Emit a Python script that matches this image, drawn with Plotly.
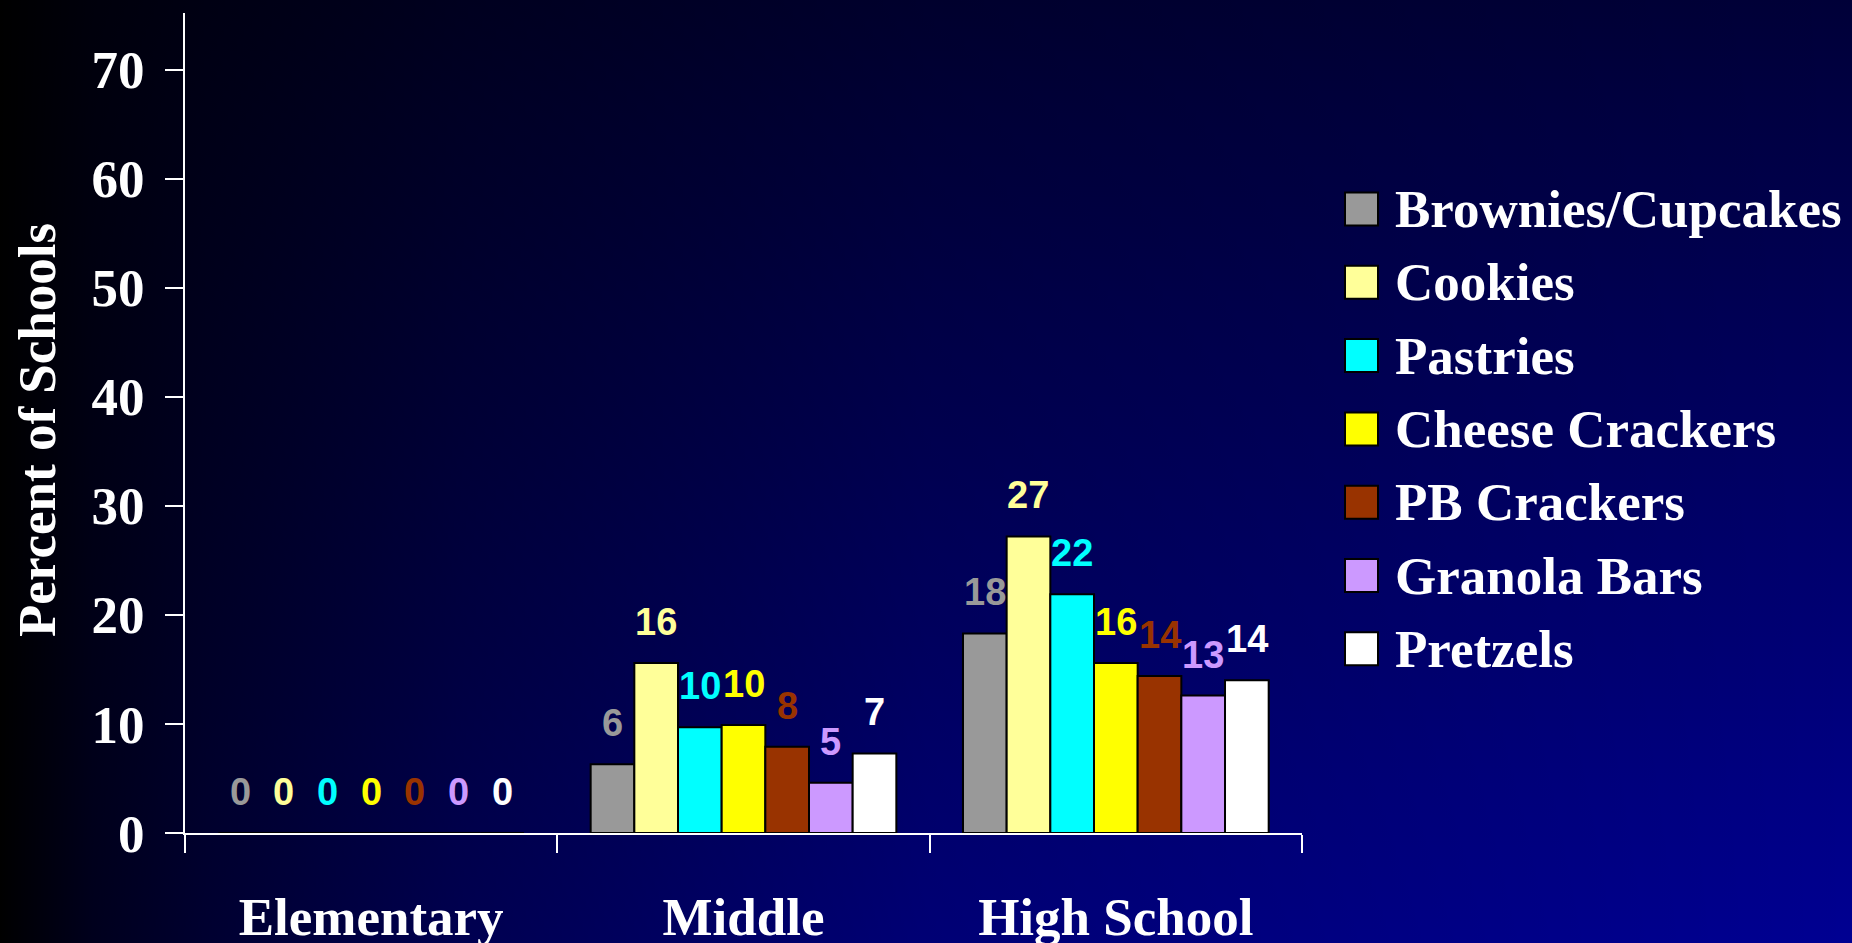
import base64
import plotly.graph_objects as go

# ---------------- data ----------------
categories = ["Elementary", "Middle", "High School"]
series_names = ["Brownies/Cupcakes", "Cookies", "Pastries", "Cheese Crackers",
                "PB Crackers", "Granola Bars", "Pretzels"]
brownies = [0, 6.3, 18.3]
cookies = [0, 15.6, 27.2]
pastries = [0, 9.7, 21.9]
cheese_crackers = [0, 9.9, 15.6]
pb_crackers = [0, 7.9, 14.4]
granola_bars = [0, 4.6, 12.6]
pretzels = [0, 7.3, 14.0]
y_ticks = [0, 10, 20, 30, 40, 50, 60, 70]
y_title = "Percent of Schools"

series_values = [brownies, cookies, pastries, cheese_crackers,
                 pb_crackers, granola_bars, pretzels]
colors = ["#999999", "#FFFF99", "#00FFFF", "#FFFF00", "#993300", "#CC99FF", "#FFFFFF"]

# ---------------- layout geometry ----------------
W, H = 1852, 943
L, R, T, B = 185, 550, 13, 110
PW, PH = W - L - R, H - T - B

SERIF = "Times New Roman, Liberation Serif, serif"
SANS = "Arial, Liberation Sans, sans-serif"

GROUP = 0.821
n = len(series_names)
bw = GROUP / n


def px_x(px):
    return (px - L) / PW


def px_y(py):
    return (H - B - py) / PH


fig = go.Figure()
for j, (name, vals, col) in enumerate(zip(series_names, series_values, colors)):
    off = -GROUP / 2 + j * bw
    fig.add_trace(go.Bar(
        x=categories, y=vals, name=name, width=bw, offset=off,
        marker=dict(color=col, line=dict(color="black", width=2)),
        showlegend=False,
    ))
    for i, v in enumerate(vals):
        fig.add_annotation(
            x=i + off + bw / 2, y=v, xref="x", yref="y",
            text=f"{v:.0f}", showarrow=False, yanchor="bottom", yshift=18,
            font=dict(family=SANS, size=38, color=col, weight="bold"),
        )

# manual legend (large swatches)
for j, (name, col) in enumerate(zip(series_names, colors)):
    yc = 209 + j * 73.3
    fig.add_shape(type="rect", xref="paper", yref="paper",
                  x0=px_x(1345), x1=px_x(1378), y0=px_y(yc + 16.5), y1=px_y(yc - 16.5),
                  fillcolor=col, line=dict(color="black", width=2))
    fig.add_annotation(xref="paper", yref="paper", x=px_x(1393), y=px_y(yc),
                       xanchor="left", yanchor="middle", showarrow=False, text=name,
                       font=dict(family=SERIF, size=53, color="white", weight="bold"))

# y-axis title (placed as rotated annotation)
fig.add_annotation(xref="paper", yref="paper", x=px_x(37), y=px_y(430),
                   xanchor="center", yanchor="middle", textangle=-90, showarrow=False,
                   text=y_title,
                   font=dict(family=SERIF, size=53, color="white", weight="bold"))

# gradient background
svg = f'''<svg xmlns="http://www.w3.org/2000/svg" width="{W}" height="{H}" viewBox="0 0 {W} {H}" preserveAspectRatio="none">
<defs>
<linearGradient id="v" x1="0" y1="0" x2="0" y2="1">
<stop offset="0" stop-color="#000038"/><stop offset="1" stop-color="#000092"/>
</linearGradient>
<linearGradient id="h" x1="0" y1="0" x2="1" y2="0">
<stop offset="0" stop-color="#000000" stop-opacity="1"/>
<stop offset="0.05" stop-color="#000000" stop-opacity="0.8"/>
<stop offset="0.11" stop-color="#000000" stop-opacity="0.67"/>
<stop offset="0.25" stop-color="#000000" stop-opacity="0.45"/>
<stop offset="0.5" stop-color="#000000" stop-opacity="0.2"/>
<stop offset="1" stop-color="#000000" stop-opacity="0"/>
</linearGradient>
</defs>
<rect x="0" y="0" width="{W}" height="{H}" fill="url(#v)"/>
<rect x="0" y="0" width="{W}" height="{H}" fill="url(#h)"/>
</svg>'''
src = "data:image/svg+xml;base64," + base64.b64encode(svg.encode()).decode()
fig.add_layout_image(dict(source=src, xref="paper", yref="paper",
                          x=-L / PW, y=1 + T / PH, sizex=W / PW, sizey=H / PH,
                          xanchor="left", yanchor="top", sizing="stretch", layer="below"))

fig.update_layout(
    width=W, height=H,
    margin=dict(l=L, r=R, t=T, b=B, pad=0, autoexpand=False),
    paper_bgcolor="#000030", plot_bgcolor="rgba(0,0,0,0)",
    barmode="overlay", showlegend=False,
    xaxis=dict(type="category", categoryorder="array", categoryarray=categories,
               range=[-0.5, 2.5], tickson="boundaries", ticks="outside", ticklen=18,
               tickwidth=2, tickcolor="white", showline=True, linecolor="white", linewidth=2,
               showgrid=False, zeroline=False, ticklabelstandoff=36, automargin=False,
               tickfont=dict(family=SERIF, size=53, color="white", weight="bold")),
    yaxis=dict(range=[0, 75.2], tickvals=y_ticks, ticks="outside", ticklen=18,
               tickwidth=2, tickcolor="white", showline=True, linecolor="white", linewidth=2,
               showgrid=False, zeroline=False, ticklabelstandoff=10, automargin=False,
               tickfont=dict(family=SERIF, size=53, color="white", weight="bold")),
)

fig.write_html("out.html", config={"displayModeBar": False},
               post_script="document.body.style.margin='0';document.body.style.overflow='hidden';")
